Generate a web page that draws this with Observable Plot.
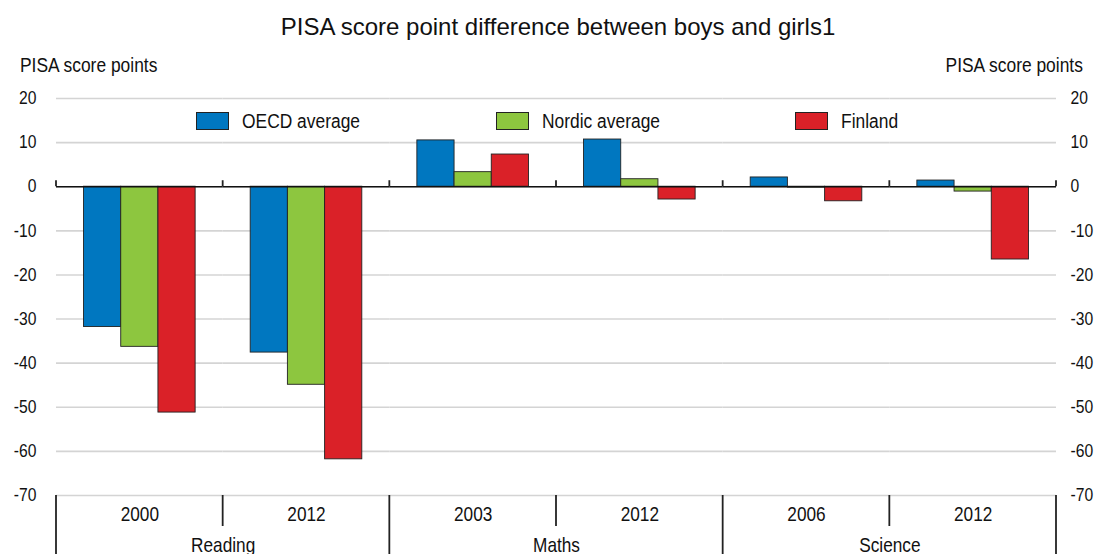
<!DOCTYPE html>
<html>
<head>
<meta charset="utf-8">
<script src="https://cdn.jsdelivr.net/npm/d3@7"></script>
<script src="https://cdn.jsdelivr.net/npm/@observablehq/plot@0.6"></script>
<style>
  html, body { margin: 0; padding: 0; background: #fff; }
  #wrap { position: relative; width: 1102px; height: 554px; overflow: hidden; font-family: 'Liberation Sans', Arial, sans-serif; color: #111; }
  #title { position: absolute; left: 7px; width: 1102px; top: 13px; text-align: center; font-size: 24px; line-height: 28px; }
  .ylab { position: absolute; top: 53px; font-size: 20px; line-height: 24px; white-space: nowrap; }
  .sq { display: inline-block; transform: scaleX(0.87); }
  #legend .item { position: absolute; top: 110px; height: 22px; display: flex; align-items: center; font-size: 20px; white-space: nowrap; }
  #legend .sw { width: 31px; height: 16px; border: 1px solid #222; margin-right: 13px; flex: none; }
  #chart { position: absolute; left: 0; top: 0; }
</style>
</head>
<body>
<div id="wrap">
  <div id="chart"></div>
  <div id="title">PISA score point difference between boys and girls1</div>
  <div class="ylab" style="left:20px"><span class="sq" style="transform-origin:left center">PISA score points</span></div>
  <div class="ylab" style="right:19px"><span class="sq" style="transform-origin:right center">PISA score points</span></div>
  <div id="legend"></div>
</div>
<script>
const subjects = ["Reading", "Reading", "Maths", "Maths", "Science", "Science"];
const years = ["2000", "2012", "2003", "2012", "2006", "2012"];
const seriesNames = ["OECD average", "Nordic average", "Finland"];
const oecd = [-31.8, -37.6, 10.5, 10.7, 2.1, 1.4];
const nordic = [-36.3, -44.9, 3.3, 1.7, -0.2, -1.1];
const finland = [-51.2, -61.8, 7.3, -2.9, -3.3, -16.5];
const colors = ["#0077c0", "#8dc63f", "#da2128"];
const yTicks = [20, 10, 0, -10, -20, -30, -40, -50, -60, -70];

const groups = subjects.map((s, i) => s + " " + years[i]);
const valuesBySeries = [oecd, nordic, finland];
const data = [];
groups.forEach((g, i) => {
  seriesNames.forEach((s, j) => {
    data.push({ group: g, series: s, value: valuesBySeries[j][i] });
  });
});
const yearOf = Object.fromEntries(groups.map((g, i) => [g, years[i]]));
const subjectLabels = groups
  .map((g, i) => ({ group: g, label: subjects[i], idx: i }))
  .filter(d => d.idx % 2 === 0);

const chart = Plot.plot({
  width: 1102,
  height: 554,
  marginTop: 98,
  marginBottom: 59,
  marginLeft: 56,
  marginRight: 46,
  style: { fontFamily: "'Liberation Sans', Arial, sans-serif", fontSize: "18px", color: "#111", background: "transparent" },
  fx: { domain: groups, padding: 0, round: false },
  x: { domain: seriesNames, paddingInner: 0, paddingOuter: 0.74, round: false, axis: null },
  y: { domain: [-70, 20] },
  color: { domain: seriesNames, range: colors },
  marks: [
    Plot.ruleY(yTicks, { stroke: "#d4d4d4", strokeWidth: 1.6 }),
    Plot.axisY(yTicks, { anchor: "left", tickSize: 0, tickPadding: 20, fontSize: 18, label: null, tickFormat: d => String(d) }),
    Plot.axisY(yTicks, { anchor: "right", tickSize: 0, tickPadding: 14, fontSize: 18, label: null, tickFormat: d => String(d) }),
    Plot.barY(data, { fx: "group", x: "series", y: "value", fill: "series", stroke: "#222", strokeWidth: 0.9 }),
    Plot.ruleY([0], { stroke: "#111", strokeWidth: 1.6 }),
    Plot.axisFx({ anchor: "bottom", tickSize: 0, tickPadding: 11, fontSize: 21, tickFormat: d => yearOf[d], label: null }),
    Plot.text(subjectLabels, { fx: "group", text: "label", frameAnchor: "bottom-right", textAnchor: "middle", lineAnchor: "bottom", dy: 56, fontSize: 21 })
  ]
});
document.getElementById("chart").appendChild(chart);
const svgNode = chart.tagName.toLowerCase() === "svg" ? chart : chart.querySelector("svg");
const svg = d3.select(svgNode);

// condense glyphs to mimic the narrow face of the original
svg.selectAll("text").each(function () {
  const g = this.closest("g[aria-label]");
  const lab = g ? g.getAttribute("aria-label") : "";
  const k = lab && lab.startsWith("y-axis") ? 0.87 : 0.82;
  const L = this.getComputedTextLength();
  if (L > 0) {
    this.setAttribute("textLength", L * k);
    this.setAttribute("lengthAdjust", "spacingAndGlyphs");
  }
});

// facet boundary decorations, positioned from Plot's own scales
const fx = chart.scale("fx");
const y = chart.scale("y");
const bw = fx.bandwidth;
const edges = groups.map(g => fx.apply(g));
edges.push(edges[edges.length - 1] + bw);
const deco = svg.append("g").attr("stroke", "#222").attr("stroke-width", 1.8);
const y0 = y.apply(0), yMin = y.apply(-70);
edges.forEach((x, i) => {
  deco.append("line").attr("x1", x).attr("x2", x).attr("y1", y0).attr("y2", y0 - 6);
  deco.append("line").attr("x1", x).attr("x2", x).attr("y1", yMin).attr("y2", i % 2 === 0 ? 554 : yMin + 31);
});

// legend
const legend = d3.select("#legend");
seriesNames.forEach((s, i) => {
  const item = legend.append("div").attr("class", "item").style("left", (196 + i * 299.5) + "px");
  item.append("div").attr("class", "sw").style("background", colors[i]);
  item.append("span").attr("class", "sq").style("transform-origin", "left center").text(s);
});
</script>
</body>
</html>
